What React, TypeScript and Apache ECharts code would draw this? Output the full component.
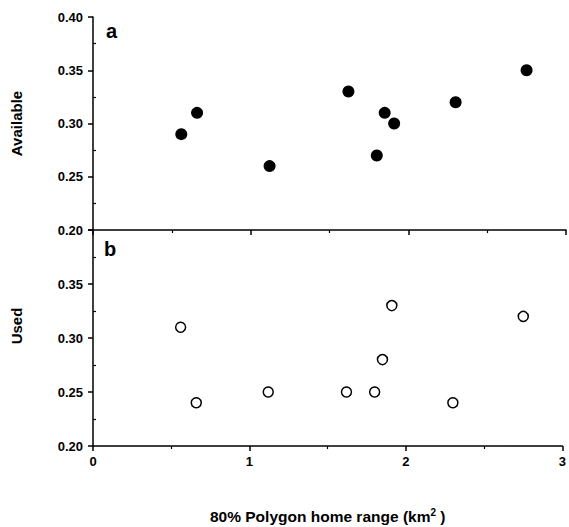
import React, { useEffect, useRef } from "react";
import * as echarts from "echarts";

const homeRange = [0.56, 0.66, 1.12, 1.62, 1.8, 1.85, 1.91, 2.3, 2.75];
const available = [0.29, 0.31, 0.26, 0.33, 0.27, 0.31, 0.3, 0.32, 0.35];
const used = [0.31, 0.24, 0.25, 0.25, 0.25, 0.28, 0.33, 0.24, 0.32];
const xTicks = [0, 1, 2, 3];
const yTicks = [0.2, 0.25, 0.3, 0.35, 0.4];

const FONT = "Liberation Sans, Arial, sans-serif";

export default function App() {
  const ref = useRef<HTMLDivElement>(null);
  useEffect(() => {
    if (!ref.current) return;
    const chart = echarts.init(ref.current, null, { renderer: "svg" });
    const axisLine = { show: true, lineStyle: { color: "#000", width: 1.5 } };
    const xAxisBase = (idx: number, showLabels: boolean) => ({
      type: "value",
      gridIndex: idx,
      min: xTicks[0],
      max: xTicks[xTicks.length - 1],
      interval: 1,
      axisLine,
      axisTick: { show: true, length: 5, lineStyle: { color: "#000", width: 1.5 } },
      minorTick: { show: true, splitNumber: 2, length: 3, lineStyle: { color: "#000", width: 1.2 } },
      splitLine: { show: false },
      axisLabel: {
        show: showLabels,
        color: "#000",
        fontFamily: FONT,
        fontWeight: "bold",
        fontSize: 13,
        margin: 9,
      },
    });
    const yAxisBase = (idx: number, name: string, hideTop: boolean) => ({
      type: "value",
      gridIndex: idx,
      min: yTicks[0],
      max: yTicks[yTicks.length - 1],
      interval: 0.05,
      name,
      nameLocation: "middle",
      nameGap: 69,
      nameTextStyle: { color: "#000", fontFamily: FONT, fontWeight: "bold", fontSize: 15 },
      axisLine,
      axisTick: { show: true, length: 5, lineStyle: { color: "#000", width: 1.5 } },
      minorTick: { show: false },
      splitLine: { show: false },
      axisLabel: {
        color: "#000",
        fontFamily: FONT,
        fontWeight: "bold",
        fontSize: 13,
        margin: 10,
        formatter: (v: number) => (hideTop && Math.abs(v - 0.4) < 1e-9 ? "" : v.toFixed(2)),
      },
    });
    const yMinor = (idx: number) => ({
      type: "value",
      gridIndex: idx,
      position: "left",
      min: yTicks[0],
      max: yTicks[yTicks.length - 1],
      interval: 0.05,
      axisLine: { show: false },
      axisTick: { show: false, inside: true },
      minorTick: { show: true, splitNumber: 2, length: 3, lineStyle: { color: "#000", width: 1.2 } },
      splitLine: { show: false },
      axisLabel: { show: false },
    });
    const xAxisB: any = xAxisBase(1, true);
    xAxisB.name = "80% Polygon home range (km{sup|2} )";
    xAxisB.nameLocation = "middle";
    xAxisB.nameGap = 61;
    xAxisB.nameTextStyle = {
      color: "#000",
      fontFamily: FONT,
      fontWeight: "bold",
      fontSize: 15.5,
      rich: {
        sup: { fontSize: 10, fontWeight: "bold", fontFamily: FONT, verticalAlign: "top", padding: [0, 0, 9, 0], color: "#000" },
      },
    };
    chart.setOption({
      animation: false,
      backgroundColor: "#fff",
      grid: [
        { left: 93, top: 17, width: 473, height: 213 },
        { left: 93, top: 230, width: 473, height: 216 },
      ],
      xAxis: [xAxisBase(0, false), xAxisB],
      yAxis: [yAxisBase(0, "Available", false), yAxisBase(1, "", true), yMinor(0), yMinor(1)],
      graphic: [
        { type: "text", x: 106, y: 31, style: { text: "a", fontFamily: FONT, fontWeight: "bold", fontSize: 20, fill: "#000", verticalAlign: "middle" } },
        { type: "text", x: 104, y: 249, style: { text: "b", fontFamily: FONT, fontWeight: "bold", fontSize: 20, fill: "#000", verticalAlign: "middle" } },
        {
          type: "text",
          x: 16,
          y: 326,
          rotation: Math.PI / 2,
          style: { text: "Used", fontFamily: FONT, fontWeight: "bold", fontSize: 15, fill: "#000", align: "center", verticalAlign: "middle" },
        },
      ],
      series: [
        {
          type: "scatter",
          xAxisIndex: 0,
          yAxisIndex: 0,
          symbol: "circle",
          symbolSize: 12,
          itemStyle: { color: "#000", opacity: 1 },
          data: homeRange.map((x, i) => [x, available[i]]),
        },
        {
          type: "scatter",
          xAxisIndex: 1,
          yAxisIndex: 1,
          symbol: "circle",
          symbolSize: 10,
          itemStyle: { color: "#fff", borderColor: "#000", borderWidth: 1.5, opacity: 1 },
          data: homeRange.map((x, i) => [x, used[i]]),
        },
      ],
    });
    return () => chart.dispose();
  }, []);
  return (
    <div
      ref={ref}
      style={{ position: "fixed", left: 0, top: 0, width: 569, height: 527 }}
    />
  );
}
